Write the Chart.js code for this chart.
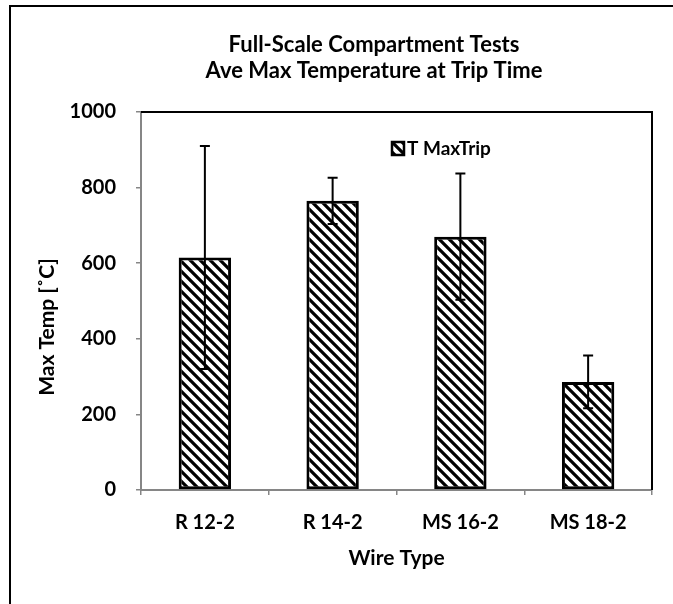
<!DOCTYPE html>
<html>
<head>
<meta charset="utf-8">
<script src="https://cdn.jsdelivr.net/npm/chart.js@4"></script>
<style>
  html, body { margin: 0; padding: 0; background: #fff; }
</style>
</head>
<body>
<canvas id="tripChart" width="673" height="604"></canvas>
<script>
// data
const wireTypes = ["R 12-2", "R 14-2", "MS 16-2", "MS 18-2"];
const maxTripTemp = [615, 765, 670, 286];
const maxTripErr = [295, 61, 167, 70];
const yTicks = [0, 200, 400, 600, 800, 1000];
const titleLines = ["Full-Scale Compartment Tests", "Ave Max Temperature at Trip Time"];
const seriesName = "T MaxTrip";
const yTitle = "Max Temp [\u02DAC]";
const xTitle = "Wire Type";

const FONT = "Lato";
const canvas = document.getElementById("tripChart");
const ctx = canvas.getContext("2d");

// "\\\" hatching like the Excel pattern fill
function makeHatch() {
  const s = 10;
  const c = document.createElement("canvas");
  c.width = s; c.height = s;
  const g = c.getContext("2d");
  g.fillStyle = "#fff";
  g.fillRect(0, 0, s, s);
  g.strokeStyle = "#000";
  g.lineWidth = 3.2;
  g.beginPath();
  g.moveTo(-2, -2); g.lineTo(s + 2, s + 2);
  g.moveTo(-2, s - 2); g.lineTo(2, s + 2);
  g.moveTo(s - 2, -2); g.lineTo(s + 2, 2);
  g.stroke();
  return ctx.createPattern(c, "repeat");
}
const hatch = makeHatch();

const decor = {
  id: "decor",
  beforeDraw(chart) {
    const c = chart.ctx;
    c.save();
    c.strokeStyle = "#000";
    c.lineWidth = 2;
    c.beginPath();
    c.moveTo(10, chart.height);
    c.lineTo(10, 6);
    c.lineTo(chart.width, 6);
    c.stroke();
    c.restore();
  },
  afterDatasetsDraw(chart) {
    const c = chart.ctx;
    const a = chart.chartArea;
    const y = chart.scales.y;
    const meta = chart.getDatasetMeta(0);
    c.save();
    // plot area frame (top + right)
    c.strokeStyle = "#000";
    c.lineWidth = 2;
    c.beginPath();
    c.moveTo(a.left, a.top);
    c.lineTo(a.right, a.top);
    c.lineTo(a.right, a.bottom);
    c.stroke();
    // error bars
    c.lineWidth = 2;
    meta.data.forEach((bar, i) => {
      const hi = y.getPixelForValue(maxTripTemp[i] + maxTripErr[i]);
      const lo = y.getPixelForValue(maxTripTemp[i] - maxTripErr[i]);
      c.beginPath();
      c.moveTo(bar.x, hi); c.lineTo(bar.x, lo);
      c.moveTo(bar.x - 5, hi); c.lineTo(bar.x + 5, hi);
      c.moveTo(bar.x - 5, lo); c.lineTo(bar.x + 5, lo);
      c.stroke();
    });
    c.restore();
  },
  afterDraw(chart) {
    const c = chart.ctx;
    c.save();
    c.fillStyle = "#000";
    c.textBaseline = "middle";
    // title
    c.textAlign = "center";
    c.font = "bold 22px " + FONT;
    c.fillText(titleLines[0], 374, 45);
    c.fillText(titleLines[1], 374, 71);
    // y axis title
    c.save();
    c.translate(47, 327);
    c.rotate(-Math.PI / 2);
    c.font = "bold 21px " + FONT;
    c.fillText(yTitle, 0, 0);
    c.restore();
    // legend
    c.fillStyle = hatch;
    c.fillRect(392, 142, 12, 13);
    c.strokeStyle = "#000";
    c.lineWidth = 2.5;
    c.strokeRect(392, 142, 12, 13);
    c.fillStyle = "#000";
    c.textAlign = "left";
    c.font = "bold 19px " + FONT;
    c.fillText(seriesName, 407, 149);
    c.restore();
  }
};

const tickFont = { family: FONT, size: 20, weight: "bold" };

new Chart(ctx, {
  type: "bar",
  data: {
    labels: wireTypes,
    datasets: [{
      label: seriesName,
      data: maxTripTemp,
      backgroundColor: hatch,
      borderColor: "#000",
      borderWidth: 3,
      borderSkipped: false,
      categoryPercentage: 1,
      barPercentage: 0.41
    }]
  },
  options: {
    responsive: false,
    animation: false,
    layout: { padding: { top: 112, right: 21, bottom: 20, left: 20 } },
    plugins: {
      legend: { display: false },
      title: { display: false },
      tooltip: { enabled: false }
    },
    scales: {
      x: {
        grid: { drawOnChartArea: false, tickLength: 5, color: "#868686", lineWidth: 1.5 },
        border: { color: "#868686", width: 2 },
        ticks: { font: tickFont, color: "#000", padding: 16 },
        title: { display: true, text: xTitle, color: "#000", font: { family: FONT, size: 21, weight: "bold" }, padding: { top: 0, bottom: 13 } },
        afterFit(s) { s.height = 604 - 20 - 490; }
      },
      y: {
        min: 0,
        max: 1000,
        grid: { drawOnChartArea: false, tickLength: 5, color: "#868686", lineWidth: 1.5 },
        border: { color: "#868686", width: 2 },
        ticks: { font: tickFont, color: "#000", padding: 20, callback: v => String(v) },
        afterBuildTicks(s) { s.ticks = yTicks.map(v => ({ value: v })); },
        afterFit(s) { s.width = 141 - 20; }
      }
    }
  },
  plugins: [decor]
});
</script>
</body>
</html>
